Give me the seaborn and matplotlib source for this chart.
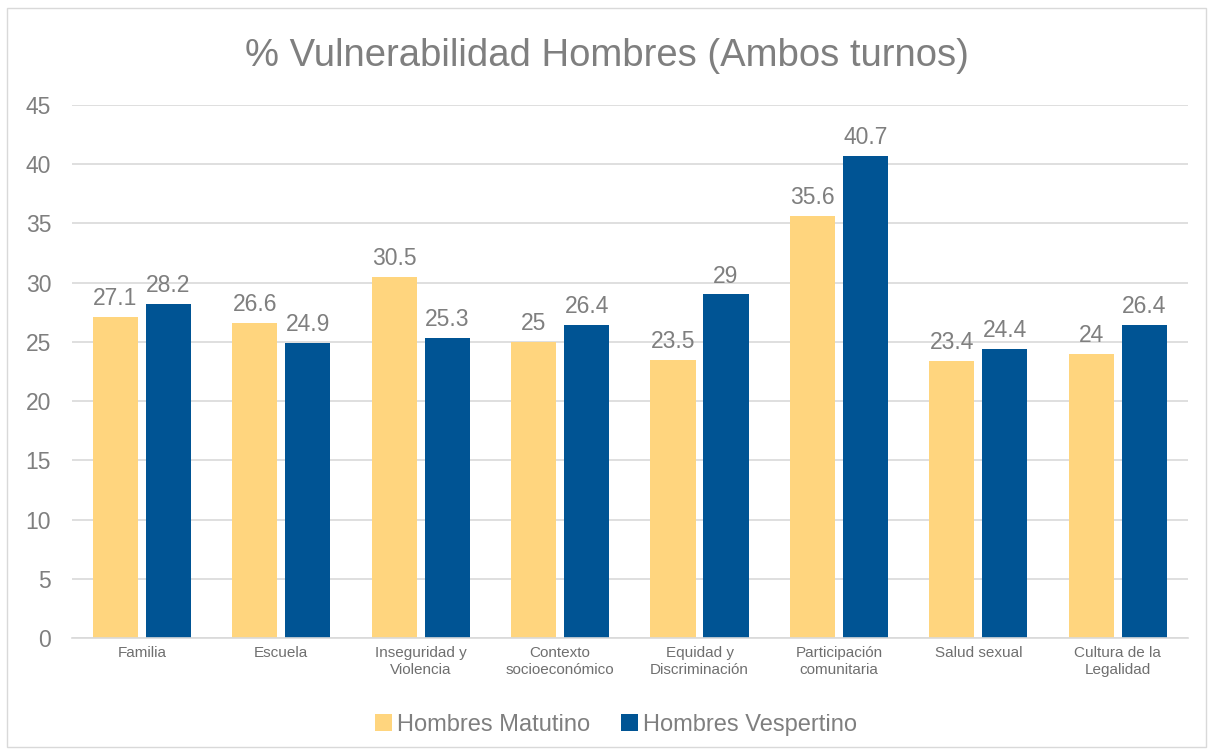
import pandas as pd
import matplotlib.pyplot as plt
import seaborn as sns
from matplotlib.patches import Rectangle

# datos
categorias = [
    "Familia",
    "Escuela",
    "Inseguridad y\nViolencia",
    "Contexto\nsocioeconómico",
    "Equidad y\nDiscriminación",
    "Participación\ncomunitaria",
    "Salud sexual",
    "Cultura de la\nLegalidad",
]
matutino = [27.1, 26.6, 30.5, 25, 23.5, 35.6, 23.4, 24]
vespertino = [28.2, 24.9, 25.3, 26.4, 29, 40.7, 24.4, 26.4]
series = ["Hombres Matutino", "Hombres Vespertino"]
colores = ["#FFD57E", "#005494"]

df = pd.DataFrame({
    "categoria": categorias * 2,
    "valor": matutino + vespertino,
    "serie": [series[0]] * len(categorias) + [series[1]] * len(categorias),
})

sns.set_theme(style="white")
plt.rcParams["font.family"] = ["Liberation Sans", "DejaVu Sans"]
gris = "#7F7F7F"

fig = plt.figure(figsize=(12.13, 7.53), dpi=100)
ax = fig.add_axes([0.0594, 0.1527, 0.9196, 0.7079])

sns.barplot(data=df, x="categoria", y="valor", hue="serie", palette=colores,
            saturation=1, linewidth=0, width=0.76, gap=0.15, ax=ax, legend=True)

for cont in ax.containers:
    ax.bar_label(cont, fmt="%g", padding=5, fontsize=16.5, color=gris)

ax.set_ylim(0, 45)
ax.set_yticks(range(0, 46, 5))
ax.set_xlim(-0.5, len(categorias) - 0.5)
ax.yaxis.grid(True, color="#D9D9D9", linewidth=1.2)
ax.set_axisbelow(True)
for s in ["top", "right", "left"]:
    ax.spines[s].set_visible(False)
ax.spines["bottom"].set_color("#D9D9D9")
ax.spines["bottom"].set_linewidth(1.2)
ax.tick_params(axis="y", labelsize=16.5, labelcolor=gris, length=0, pad=15)
ax.tick_params(axis="x", labelsize=11, labelcolor="#6F6F6F", length=0, pad=6)
ax.set_xlabel("")
ax.set_ylabel("")

handles, labels = ax.get_legend_handles_labels()
ax.legend(handles, labels, loc="center", bbox_to_anchor=(0.4875, -0.163),
          ncol=2, frameon=False, fontsize=17, labelcolor=gris,
          handlelength=0.75, handleheight=0.75, handletextpad=0.2,
          columnspacing=1.3)

fig.suptitle("% Vulnerabilidad Hombres (Ambos turnos)", y=0.925, va="center",
             fontsize=27.5, color=gris)

fig.patches.append(Rectangle((0.006, 0.008), 0.988, 0.982, transform=fig.transFigure,
                             fill=False, edgecolor="#D9D9D9", linewidth=1))

plt.savefig("out.png", dpi=100)
